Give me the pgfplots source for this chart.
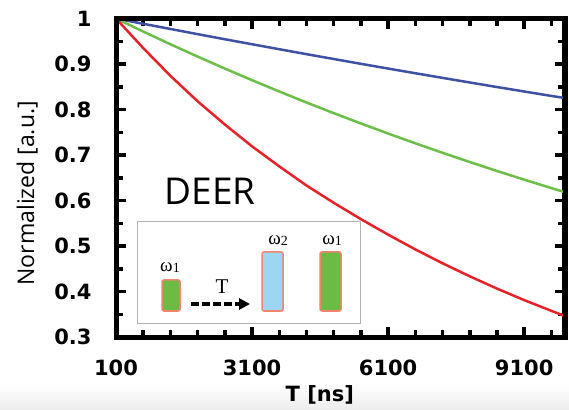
\documentclass[border=0pt]{standalone}
\usepackage{fontspec}
\usepackage{pgfplots}
\pgfplotsset{compat=1.18}
\usetikzlibrary{arrows.meta}
\newfontfamily\dejavu{DejaVu Sans}
\newfontfamily\opensans{Open Sans}
\newfontfamily\serifw{Liberation Serif}
\definecolor{cblue}{HTML}{3F51A3}
\definecolor{cgreen}{HTML}{6BBE48}
\definecolor{cred}{HTML}{E62229}
\definecolor{pgreen}{HTML}{6CBB45}
\definecolor{pblue}{HTML}{9DD6F2}
\definecolor{pedge}{HTML}{F2836E}
\begin{document}
\begin{tikzpicture}
\shade[top color=white, bottom color=black!7] (-116pt,-72pt) rectangle (453pt,-46pt);
\path (-116pt,-72pt) rectangle (453pt,337pt);
% inset
\draw[black!30, line width=0.8pt, fill=white] (21pt,14pt) rectangle (244pt,116pt);
\draw[pedge, line width=1.5pt, fill=pgreen, rounded corners=2pt] (46pt,26pt) rectangle (64pt,57pt);
\draw[pedge, line width=1.5pt, fill=pblue, rounded corners=2pt] (146pt,26pt) rectangle (167pt,85pt);
\draw[pedge, line width=1.5pt, fill=pgreen, rounded corners=2pt] (204pt,26pt) rectangle (225pt,85pt);
\draw[line width=3.2pt, dash pattern=on 8pt off 3pt, -{Triangle[length=11pt,width=11pt]}] (75pt,33pt) -- (134pt,33pt);
\node[font={\fontsize{19}{19}\selectfont\serifw}] at (54pt,69pt) {ω\raisebox{-1pt}{\fontsize{14}{14}\selectfont 1}};
\node[font={\fontsize{19}{19}\selectfont\serifw}] at (162pt,96pt) {ω\raisebox{-1pt}{\fontsize{14}{14}\selectfont 2}};
\node[font={\fontsize{19}{19}\selectfont\serifw}] at (216pt,96pt) {ω\raisebox{-1pt}{\fontsize{14}{14}\selectfont 1}};
\node[font={\fontsize{21}{21}\selectfont\serifw}] at (106pt,50pt) {T};
\node[font={\fontsize{37}{37}\selectfont\opensans}, anchor=base] at (94pt,132pt) {DEER};
\begin{axis}[
  scale only axis, width=449pt, height=318.5pt,
  xmin=100, xmax=10000, ymin=0.3, ymax=1,
  scaled ticks=false,
  xtick={100,3100,6100,9100},
  xticklabels={100,3100,6100,9100},
  minor xtick={700,1300,1900,2500,3700,4300,4900,5500,6700,7300,7900,8500,9700},
  ytick={0.3,0.4,0.5,0.6,0.7,0.8,0.9,1},
  yticklabels={0.3,0.4,0.5,0.6,0.7,0.8,0.9,1},
  minor ytick={0.35,0.45,0.55,0.65,0.75,0.85,0.95},
  tick align=inside,
  major tick length=10pt, minor tick length=7pt,
  every tick/.append style={black, line width=3.5pt},
  major tick style={line width=3.5pt},
  minor tick style={line width=3.5pt},
  axis line style={line width=5pt},
  ticklabel style={font={\fontsize{21}{25}\selectfont\dejavu\bfseries}},
  yticklabel style={xshift=-21pt},
  xticklabel style={yshift=-19pt},
  xlabel={T [ns]},
  ylabel={Normalized [a.u.]},
  every axis x label/.style={at={(axis description cs:0.454,-0.182)}, anchor=center, font={\fontsize{21}{25}\selectfont\dejavu\bfseries}},
  every axis y label/.style={at={(axis description cs:-0.198,0.451)}, rotate=90, anchor=center, font={\fontsize{23}{27}\selectfont\opensans}},
]
\addplot[cblue, line width=2.5pt] coordinates {
(100,1) (700,0.9884) (1300,0.9770) (1900,0.9656) (2500,0.9544) (3100,0.9434) (3700,0.9325) (4300,0.9216) (4900,0.9110) (5500,0.9004) (6100,0.8900) (6700,0.8797) (7300,0.8695) (7900,0.8594) (8500,0.8494) (9100,0.8396) (9700,0.8298) (10000,0.8251)};
\addplot[cgreen, line width=2.5pt] coordinates {
(100,1) (700,0.9713) (1300,0.9434) (1900,0.9163) (2500,0.8900) (3100,0.8644) (3700,0.8396) (4300,0.8154) (4900,0.7920) (5500,0.7693) (6100,0.7472) (6700,0.7257) (7300,0.7048) (7900,0.6846) (8500,0.6649) (9100,0.6458) (9700,0.6273) (10000,0.6181)};
\addplot[cred, line width=2.5pt] coordinates {
(100,1) (700,0.9350) (1300,0.8740) (1900,0.8180) (2500,0.7670) (3100,0.7190) (3700,0.6750) (4300,0.6330) (4900,0.5950) (5500,0.5590) (6100,0.5250) (6700,0.4925) (7300,0.4620) (7900,0.4334) (8500,0.4064) (9100,0.3811) (9700,0.3574) (10000,0.3461)};
\end{axis}
\draw[line width=5pt, line join=miter] (0,0) rectangle (449pt,318.5pt);
\end{tikzpicture}
\end{document}
